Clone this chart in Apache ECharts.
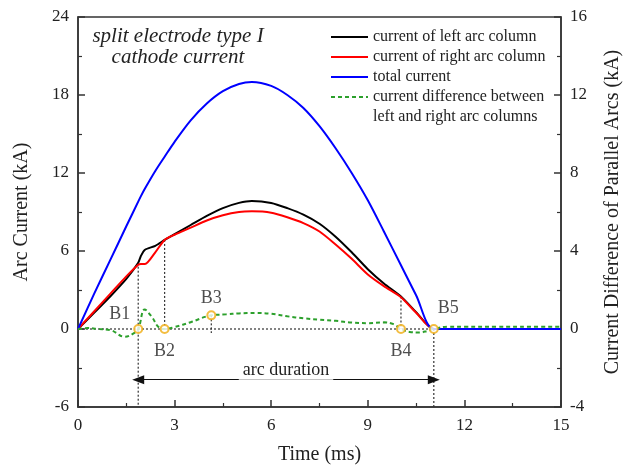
<!DOCTYPE html>
<html>
<head>
<meta charset="utf-8">
<script src="https://cdn.jsdelivr.net/npm/echarts@6/dist/echarts.min.js"></script>
<style>
  html, body { margin: 0; padding: 0; background: #fff; }
  #chart { width: 631px; height: 470px; }
</style>
</head>
<body>
<div id="chart"></div>
<script>
// time points (ms) shared by the three current curves
var timeArr = [0, 0.5, 1, 1.5, 1.87, 1.95, 2.08, 2.4, 2.69, 3, 3.5, 4, 4.5, 5, 5.4, 6, 6.5, 7, 7.5, 8, 8.5, 9, 9.5, 10.03, 10.5, 11.05, 12, 13, 14, 15];
var leftArc  = [0, 1.25, 2.5, 3.85, 5.1, 5.6, 6.1, 6.4, 6.85, 7.3, 8.0, 8.7, 9.3, 9.7, 9.85, 9.7, 9.3, 8.8, 8.1, 7.1, 5.9, 4.6, 3.5, 2.5, 1.3, 0, 0, 0, 0, 0];
var rightArc = [0, 1.35, 2.7, 4.05, 4.95, 5.0, 5.0, 5.9, 6.85, 7.25, 7.8, 8.35, 8.75, 9.0, 9.05, 8.95, 8.6, 8.15, 7.5, 6.5, 5.4, 4.2, 3.3, 2.45, 1.25, 0, 0, 0, 0, 0];
var totalCur = [0, 2.7, 5.3, 7.9, 9.8, 10.2, 10.8, 12.15, 13.25, 14.4, 16.05, 17.35, 18.3, 18.85, 19.0, 18.7, 18.0, 17.0, 15.6, 13.9, 12.0, 9.9, 7.5, 4.9, 2.6, 0, 0, 0, 0, 0];

// current difference (right axis)
var diffTime = [0, 0.3, 0.6, 1.0, 1.45, 1.7, 1.87, 2.07, 2.3, 2.5, 2.69, 3.0, 3.5, 4.14, 4.6, 5.0, 5.5, 6.0, 6.5, 7.0, 7.5, 8.0, 8.5, 9.0, 9.5, 9.8, 10.03, 10.3, 10.6, 10.85, 11.05, 11.5, 12, 13, 14, 15];
var diffVal  = [0, 0.05, 0, -0.05, -0.4, -0.25, 0, 1.0, 0.6, 0.1, 0, 0.1, 0.35, 0.7, 0.75, 0.8, 0.82, 0.78, 0.65, 0.55, 0.48, 0.42, 0.33, 0.3, 0.34, 0.25, 0, -0.15, -0.18, -0.1, 0, 0.12, 0.12, 0.12, 0.12, 0.12];

// marked points B1..B5 (time, difference)
var bNames = ['B1', 'B2', 'B3', 'B4', 'B5'];
var bTime  = [1.87, 2.69, 4.14, 10.03, 11.05];
var bDiff  = [0, 0, 0.7, 0, 0];

var arcDurationY = -3.9;

function pairs(xs, ys) {
  return xs.map(function (x, i) { return [x, ys[i]]; });
}
function leftAt(t) {
  return leftArc[timeArr.indexOf(t)];
}

var font = 'Liberation Serif';
var dotStyle = { color: '#333', width: 1.2, type: [2, 2] };

// dotted guide lines
function guide(name, pts, axis) {
  return {
    name: name, type: 'line', data: pts, yAxisIndex: axis || 0,
    symbol: 'none', silent: true, z: 1,
    lineStyle: dotStyle
  };
}
var guides = [
  guide('g1', [[bTime[0], leftAt(1.87)], [bTime[0], -6]]),
  guide('g2', [[bTime[1], leftAt(2.69)], [bTime[1], 0]]),
  guide('g3', [[bTime[2], bDiff[2]], [bTime[2], -0.2]], 1),
  guide('g4', [[bTime[3], leftAt(10.03)], [bTime[3], 0]]),
  guide('g5', [[bTime[4], 0], [bTime[4], -6]])
];

var zeroLine = guide('g0', [[0, 0], [bTime[4], 0]]);
zeroLine.markLine = {
  silent: true,
  symbol: ['triangle', 'triangle'],
  symbolSize: [9, 12],
  lineStyle: { color: '#111', width: 1.2, type: 'solid' },
  label: {
    show: true, position: 'middle', formatter: 'arc duration',
    fontFamily: font, fontSize: 18, color: '#222',
    backgroundColor: '#fff', padding: [0, 4], distance: 0
  },
  data: [[{ coord: [bTime[0], arcDurationY] }, { coord: [bTime[4], arcDurationY] }]]
};

var labelPos = {
  B1: { position: 'left', offset: [2, -15] },
  B2: { position: 'bottom', offset: [0, 3] },
  B3: { position: 'top', offset: [0, 2] },
  B4: { position: 'bottom', offset: [0, 3] },
  B5: { position: 'right', offset: [-6, -21] }
};

var bPoints = bNames.map(function (n, i) {
  return {
    name: n, value: [bTime[i], bDiff[i]],
    label: Object.assign({ show: true, formatter: n, fontFamily: font, fontSize: 18, color: '#222' }, labelPos[n])
  };
});

var axisLine = { onZero: false, lineStyle: { color: '#333', width: 1.5 } };
var axisLabel = { fontFamily: font, fontSize: 17, color: '#222' };
var nameStyle = { fontFamily: font, fontSize: 20, color: '#222' };
var tick = { inside: true, length: 7, lineStyle: { color: '#333', width: 1.5 } };
var minor = { show: true, splitNumber: 2, length: 4, lineStyle: { color: '#333', width: 1.2 } };
var hidden = 'rgba(0,0,0,0)';

var option = {
  animation: false,
  backgroundColor: '#fff',
  grid: { left: 78, right: 69, top: 17, bottom: 62, show: true, borderColor: '#333', borderWidth: 1.5 },
  graphic: [{
    type: 'text', x: 178, y: 26,
    style: {
      text: 'split electrode type I\ncathode current',
      font: 'italic 21px "Liberation Serif"', fill: '#222',
      textAlign: 'center', textVerticalAlign: 'top', lineHeight: 21
    }
  }],
  legend: {
    orient: 'vertical', left: 325, top: 24,
    itemWidth: 37, itemHeight: 14, itemGap: 4,
    itemStyle: { opacity: 0 },
    textStyle: { fontFamily: font, fontSize: 16, color: '#222' },
    data: [
      'current of left arc column',
      'current of right arc column',
      'total current',
      'current difference between',
      { name: 'left and right arc columns', icon: 'none' }
    ]
  },
  xAxis: {
    type: 'value', min: 0, max: 15, interval: 3,
    name: 'Time (ms)', nameLocation: 'middle', nameGap: 38, nameTextStyle: nameStyle,
    axisLine: axisLine, axisTick: tick, minorTick: minor,
    axisLabel: Object.assign({ margin: 10 }, axisLabel),
    splitLine: { show: false }
  },
  yAxis: [{
    type: 'value', min: -6, max: 24, interval: 6,
    name: 'Arc Current (kA)', nameLocation: 'middle', nameGap: 46, nameRotate: 90, nameTextStyle: nameStyle,
    axisLine: axisLine, axisTick: tick, minorTick: minor,
    axisLabel: Object.assign({ margin: 9 }, axisLabel),
    splitLine: { show: false }
  }, {
    type: 'value', min: -4, max: 16, interval: 4, position: 'right',
    name: 'Current Difference of Parallel Arcs (kA)', nameLocation: 'middle', nameGap: 42, nameRotate: 90, nameTextStyle: nameStyle,
    axisLine: axisLine, axisTick: tick, minorTick: minor,
    axisLabel: Object.assign({ margin: 9 }, axisLabel),
    splitLine: { show: false }
  }],
  series: guides.concat([zeroLine, {
    name: 'current of left arc column', type: 'line', data: pairs(timeArr, leftArc),
    symbol: 'none', smooth: 0.25, z: 3, lineStyle: { color: '#000', width: 2 }, itemStyle: { color: hidden }
  }, {
    name: 'current of right arc column', type: 'line', data: pairs(timeArr, rightArc),
    symbol: 'none', smooth: 0.25, z: 3, lineStyle: { color: '#f00', width: 2 }, itemStyle: { color: hidden }
  }, {
    name: 'total current', type: 'line', data: pairs(timeArr, totalCur),
    symbol: 'none', smooth: 0.3, z: 3, lineStyle: { color: '#0000ff', width: 2 }, itemStyle: { color: hidden }
  }, {
    name: 'current difference between', type: 'line', data: pairs(diffTime, diffVal), yAxisIndex: 1,
    symbol: 'none', smooth: 0.4, z: 4, lineStyle: { color: '#2ca02c', width: 2, type: [4, 3] }, itemStyle: { color: hidden }
  }, {
    name: 'left and right arc columns', type: 'line', data: [], symbol: 'none',
    lineStyle: { opacity: 0 }, itemStyle: { color: hidden }
  }, {
    name: 'points', type: 'scatter', yAxisIndex: 1, data: bPoints, z: 6,
    symbol: 'circle', symbolSize: 8,
    itemStyle: { color: '#fff', borderColor: '#f0ac10', borderWidth: 2 }
  }])
};

var chart = echarts.init(document.getElementById('chart'));
chart.setOption(option);
</script>
</body>
</html>
